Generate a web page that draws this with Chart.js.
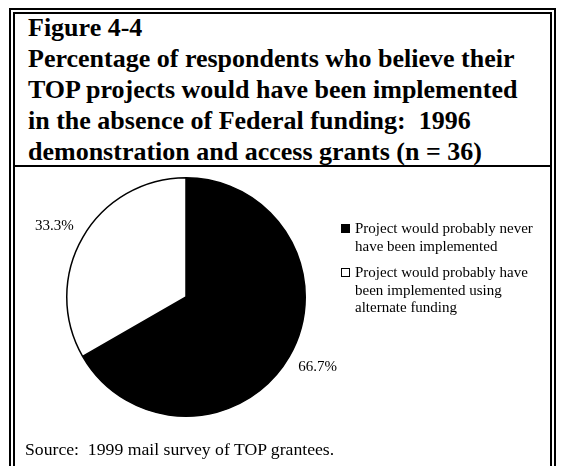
<!DOCTYPE html>
<html>
<head>
<meta charset="utf-8">
<script src="https://cdn.jsdelivr.net/npm/chart.js@4"></script>
<style>
  html, body { margin: 0; padding: 0; background: #fff; }
  body { width: 565px; height: 466px; position: relative; overflow: hidden; font-family: "Liberation Serif", "Times New Roman", serif; color: #000; }
  .frame { position: absolute; left: 9px; top: 8px; width: 547px; height: 490px; box-sizing: border-box; border: 6px double #000; }
  .title { position: absolute; left: 28px; top: 12px; font-size: 26px; font-weight: bold; line-height: 31px; white-space: nowrap; }
  .rule { position: absolute; left: 13px; top: 165px; width: 539px; height: 2px; background: #000; }
  #pie { position: absolute; left: 16px; top: 137px; }
  .legend { position: absolute; left: 341px; top: 220px; font-size: 15px; line-height: 17.5px; }
  .legend .item { position: relative; padding-left: 14px; margin-bottom: 9px; }
  .legend .box { position: absolute; left: 0; top: 4px; width: 9px; height: 9px; box-sizing: border-box; border: 1.5px solid #000; }
  .source { position: absolute; left: 25px; top: 439px; font-size: 17.7px; white-space: nowrap; }
</style>
</head>
<body>
<div class="frame"></div>
<div class="title">Figure 4-4<br>Percentage of respondents who believe their<br>TOP projects would have been implemented<br>in the absence of Federal funding:&nbsp; 1996<br>demonstration and access grants (n = 36)</div>
<div class="rule"></div>
<canvas id="pie" width="340" height="320"></canvas>
<div class="legend" id="legend"></div>
<div class="source">Source:&nbsp; 1999 mail survey of TOP grantees.</div>

<script>
// answers, share of respondents (%)
const answers = [
  ['Project would probably never', 'have been implemented'],
  ['Project would probably have', 'been implemented using', 'alternate funding']
];
const shares = [66.7, 33.3];
const fills = ['#000000', '#ffffff'];

// percentage text set just outside each slice, left or right of the rim
const pctLabels = {
  id: 'pctLabels',
  afterDatasetsDraw(chart) {
    const ctx = chart.ctx;
    const meta = chart.getDatasetMeta(0);
    ctx.save();
    ctx.font = '15px "Liberation Serif"';
    ctx.fillStyle = '#000';
    ctx.textBaseline = 'middle';
    meta.data.forEach((arc, i) => {
      const p = arc.getProps(['x', 'y', 'startAngle', 'endAngle', 'outerRadius'], true);
      const mid = (p.startAngle + p.endAngle) / 2;
      const r = p.outerRadius;
      const dy = Math.sin(mid) * r * 1.18;
      const rim = Math.sqrt(Math.max(r * r - dy * dy, 0));
      const side = Math.cos(mid) < 0 ? -1 : 1;
      ctx.textAlign = side < 0 ? 'right' : 'left';
      ctx.fillText(shares[i].toFixed(1) + '%', p.x + side * (rim + 16), p.y + dy);
    });
    ctx.restore();
  }
};

const pie = new Chart(document.getElementById('pie'), {
  type: 'pie',
  data: {
    labels: answers.map(a => a.join(' ')),
    datasets: [{
      data: shares,
      backgroundColor: fills,
      borderColor: '#000',
      borderWidth: 1.5
    }]
  },
  options: {
    responsive: false,
    animation: false,
    devicePixelRatio: 1,
    layout: { padding: { left: 50, right: 50, top: 40, bottom: 40 } },
    plugins: {
      legend: { display: false },
      tooltip: { enabled: false }
    }
  },
  plugins: [pctLabels]
});

//legend
const legend = document.getElementById('legend');
answers.forEach((lines, i) => {
  const item = document.createElement('div');
  item.className = 'item';
  const box = document.createElement('span');
  box.className = 'box';
  box.style.background = fills[i];
  item.appendChild(box);
  item.innerHTML += lines.join('<br>');
  legend.appendChild(item);
});
</script>
</body>
</html>
